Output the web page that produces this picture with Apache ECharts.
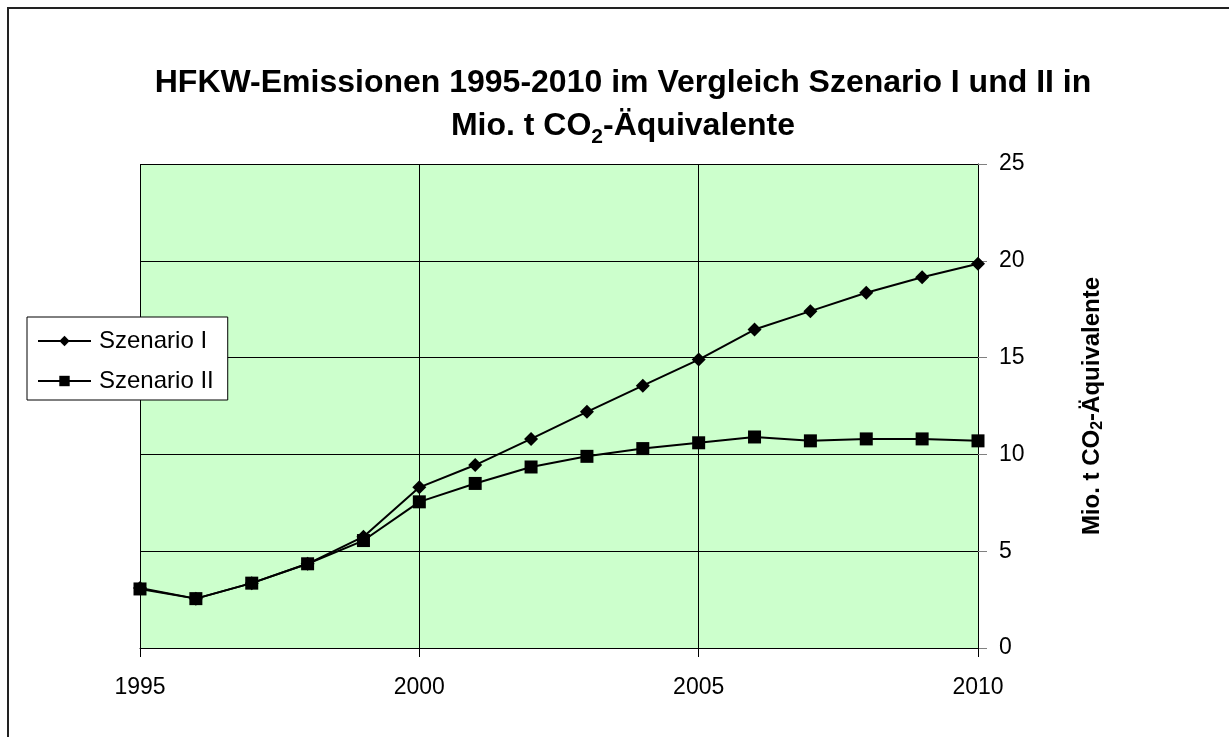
<!DOCTYPE html>
<html>
<head>
<meta charset="utf-8">
<script src="https://cdn.jsdelivr.net/npm/echarts@6/dist/echarts.min.js"></script>
<style>
  html, body { margin: 0; padding: 0; background: #fff; }
  #main { width: 1229px; height: 737px; }
</style>
</head>
<body>
<div id="main"></div>
<script>
// Jahre und Werte (Mio. t CO2-Äquivalente)
var years = [1995, 1996, 1997, 1998, 1999, 2000, 2001, 2002, 2003, 2004, 2005, 2006, 2007, 2008, 2009, 2010];
var szenario1 = [3.1, 2.55, 3.35, 4.35, 5.75, 8.3, 9.45, 10.8, 12.2, 13.55, 14.9, 16.45, 17.4, 18.35, 19.15, 19.85];
var szenario2 = [3.05, 2.55, 3.35, 4.35, 5.55, 7.55, 8.5, 9.35, 9.9, 10.3, 10.6, 10.9, 10.7, 10.8, 10.8, 10.7];
var xTicks = [1995, 2000, 2005, 2010];
var yTicks = [0, 5, 10, 15, 20, 25];

function pairs(vals) {
  return years.map(function (y, i) { return [y, vals[i]]; });
}

var chart = echarts.init(document.getElementById('main'));
var font = 'Liberation Sans, Arial, sans-serif';

chart.setOption({
  animation: false,
  backgroundColor: '#fff',
  textStyle: { fontFamily: font },
  graphic: [{
    type: 'rect',
    shape: { x: 8, y: 8, width: 1260, height: 760 },
    style: { fill: 'none', stroke: '#222', lineWidth: 2 },
    silent: true
  }],
  title: {
    text: 'HFKW-Emissionen 1995-2010 im Vergleich Szenario I und II in\nMio. t CO{sub|2}-Äquivalente',
    left: 618,
    textAlign: 'center',
    top: 57,
    textStyle: {
      fontFamily: font,
      fontSize: 32,
      fontWeight: 'bold',
      color: '#000',
      lineHeight: 43,
      rich: {
        sub: { fontSize: 21, fontWeight: 'bold', verticalAlign: 'bottom', padding: [16, 0, 0, 0], lineHeight: 43, fontFamily: font }
      }
    }
  },
  legend: {
    orient: 'vertical',
    left: 27,
    top: 317,
    padding: [11, 14, 6, 10],
    itemGap: 14,
    itemWidth: 53,
    itemHeight: 13,
    backgroundColor: '#fff',
    borderColor: '#000',
    borderWidth: 1,
    borderRadius: 0,
    textStyle: { fontFamily: font, fontSize: 24, color: '#000', padding: [0, 0, 0, 3], lineHeight: 26 },
    data: ['Szenario I', 'Szenario II']
  },
  grid: {
    left: 140,
    right: 251,
    top: 164,
    bottom: 89,
    show: true,
    backgroundColor: '#CCFFCC',
    borderWidth: 0
  },
  xAxis: {
    type: 'value',
    min: xTicks[0],
    max: xTicks[xTicks.length - 1],
    interval: 5,
    axisLine: { show: true, lineStyle: { color: '#000', width: 1 } },
    axisTick: { show: true, length: 9, lineStyle: { color: '#000' } },
    axisLabel: { fontFamily: font, fontSize: 23, color: '#000', margin: 28, formatter: function (v) { return String(v); } },
    splitLine: { show: true, lineStyle: { color: '#000', width: 1 } }
  },
  yAxis: {
    type: 'value',
    position: 'right',
    min: yTicks[0],
    max: yTicks[yTicks.length - 1],
    interval: 5,
    name: 'Mio. t CO{sub|2}-Äquivalente',
    nameLocation: 'middle',
    nameGap: 100,
    nameRotate: 90,
    nameTextStyle: {
      fontFamily: font,
      fontSize: 24,
      fontWeight: 'bold',
      color: '#000',
      rich: {
        sub: { fontSize: 16, fontWeight: 'bold', fontFamily: font, verticalAlign: 'bottom', padding: [12, 0, 0, 0] }
      }
    },
    axisLine: { show: true, lineStyle: { color: '#000', width: 1 } },
    axisTick: { show: true, length: 9, lineStyle: { color: '#808080' } },
    axisLabel: { fontFamily: font, fontSize: 23, color: '#000', margin: 21 },
    splitLine: { show: true, lineStyle: { color: '#000', width: 1 } }
  },
  series: [
    {
      name: 'Szenario I',
      type: 'line',
      data: pairs(szenario1),
      symbol: 'diamond',
      symbolSize: 14,
      lineStyle: { color: '#000', width: 2 },
      itemStyle: { color: '#000' }
    },
    {
      name: 'Szenario II',
      type: 'line',
      data: pairs(szenario2),
      symbol: 'rect',
      symbolSize: 13,
      lineStyle: { color: '#000', width: 2 },
      itemStyle: { color: '#000' }
    }
  ]
});
</script>
</body>
</html>
